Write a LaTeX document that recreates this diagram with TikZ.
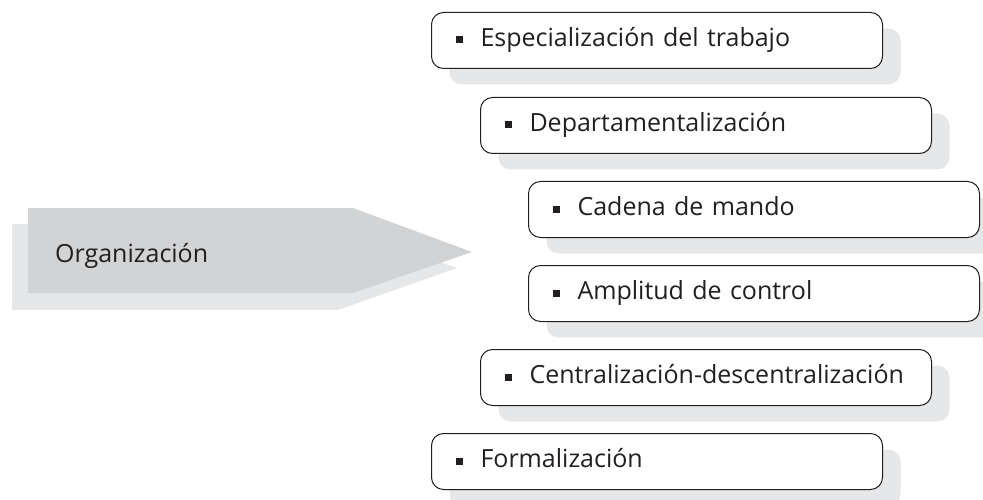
\documentclass[tikz,border=0pt]{standalone}
\usepackage{fontspec}
\setmainfont{Open Sans}
\usetikzlibrary{shadows}

\definecolor{arrowgray}{HTML}{D1D3D4}
\definecolor{shadegray}{HTML}{E6E7E8}
\definecolor{inkgray}{HTML}{231F20}

\tikzset{
  itembox/.style={draw=inkgray, line width=1pt, rounded corners=12pt, fill=white,
    anchor=north west, minimum width=451pt, minimum height=56pt,
    text width=403pt, inner xsep=24pt, inner ysep=0pt, align=left,
    text height=16pt, text depth=4pt, text=inkgray,
    general shadow={fill=shadegray, shadow xshift=18pt, shadow yshift=-16pt}},
}
\newcommand{\bul}{\rule[3pt]{7pt}{7pt}\hspace{18pt}}

\begin{document}
\begin{tikzpicture}[x=1pt, y=-1pt, font=\fontsize{25}{29}\selectfont]
            \clip (0,0) rectangle (983,500);
            % flecha
            \fill[shadegray] (12,224) -- (338,224) -- (457,268) -- (338,310) -- (12,310) -- cycle;
            \fill[arrowgray] (28,208) -- (353,208) -- (472,252) -- (353,293) -- (28,293) -- cycle;
            \node[anchor=base west, inner sep=0pt, text=inkgray] (org) at (55,262) {Organización};
            % elementos
            \node[itembox] (esp) at (431,12) {\bul Especialización del trabajo};
            \node[itembox] (dep) at (480,97) {\bul Departamentalización};
            \node[itembox] (cad) at (528,181) {\bul Cadena de mando};
            \node[itembox] (amp) at (528,265) {\bul Amplitud de control};
            \node[itembox] (cen) at (480,349) {\bul Centralización-descentralización};
            \node[itembox] (for) at (431,433) {\bul Formalización};
        \end{tikzpicture}
\end{document}
